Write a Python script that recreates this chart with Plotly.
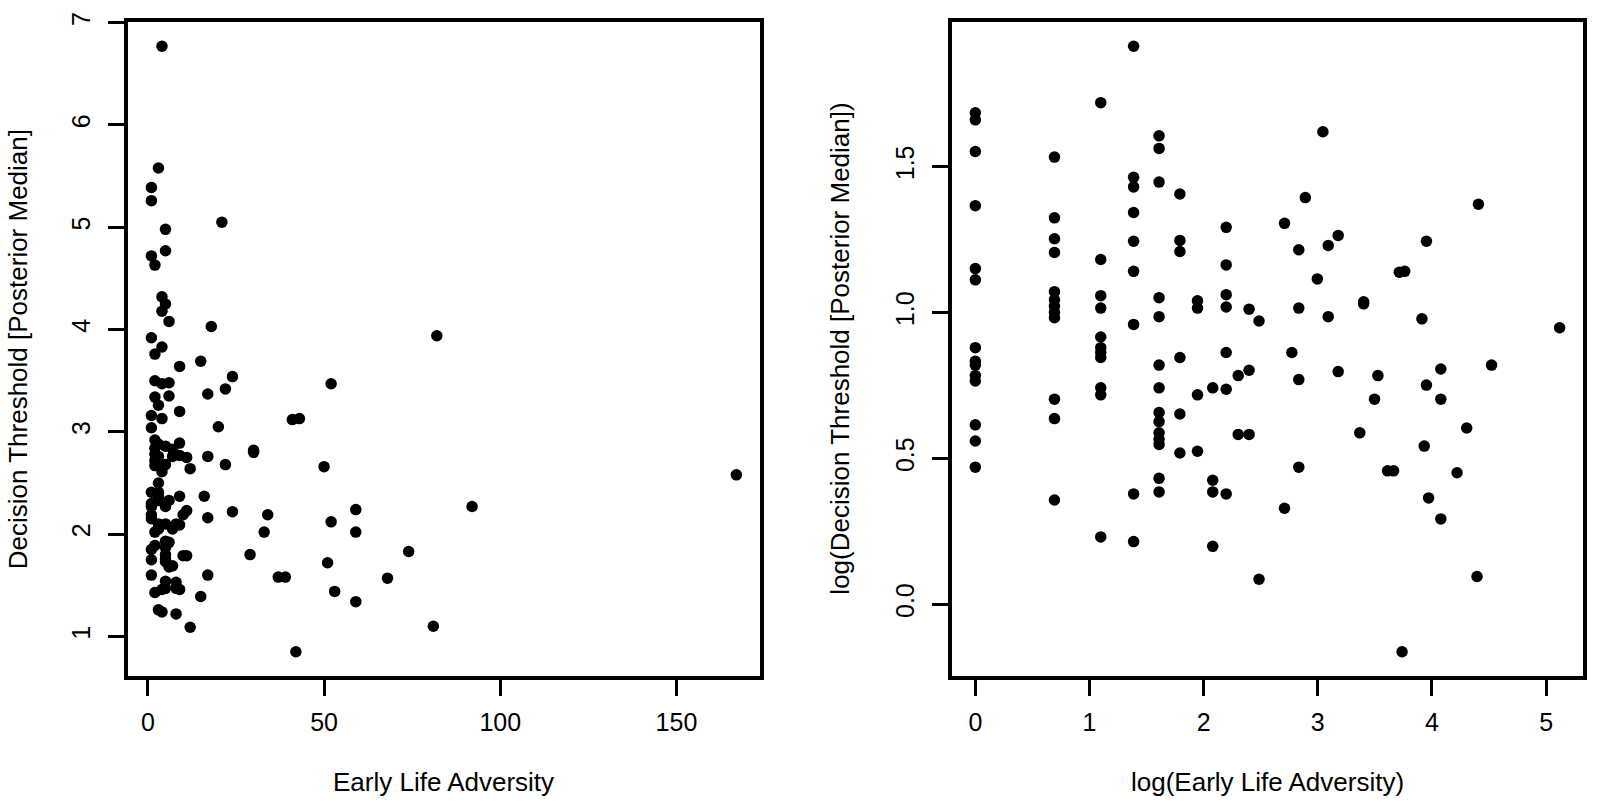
import numpy as np
import plotly.graph_objects as go
from plotly.subplots import make_subplots

# Early life adversity score and decision threshold (posterior median), one entry per participant
adversity = [
    1, 1, 1, 1, 1, 1, 1, 1, 1, 1, 1, 1, 1, 1,
    2, 2, 2, 2, 2, 2, 2, 2, 2, 2, 2, 2,
    3, 3, 3, 3, 3, 3, 3, 3, 3, 3, 3,
    4, 4, 4, 4, 4, 4, 4, 4, 4,
    5, 5, 5, 5, 5, 5, 5, 5, 5, 5, 5, 5, 5, 5,
    6, 6, 6, 6, 6, 6,
    7, 7, 7, 7,
    8, 8, 8, 8,
    9, 9, 9, 9, 9, 9, 9,
    10, 10, 11, 11, 11, 12, 12,
    15, 15, 16, 17, 17, 17, 17, 18, 20, 21, 22, 22, 24, 24,
    29, 30, 30, 33, 34, 37, 39, 41, 42, 43,
    50, 51, 52, 52, 53, 59, 59, 59, 68, 74, 81, 82, 92, 167,
]

threshold = [
    5.39, 5.26, 4.72, 3.92, 3.16, 3.04, 2.41, 2.30, 2.27, 2.19, 2.15, 1.85, 1.75, 1.60,
    4.63, 3.76, 3.50, 3.34, 2.92, 2.84, 2.78, 2.72, 2.67, 2.02, 1.89, 1.43,
    5.58, 3.26, 2.88, 2.76, 2.50, 2.41, 2.37, 2.33, 2.10, 2.05, 1.26,
    6.77, 4.32, 4.18, 3.83, 3.47, 3.13, 2.61, 1.46, 1.24,
    4.98, 4.77, 4.25, 2.86, 2.68, 2.27, 2.10, 1.93, 1.87, 1.80, 1.76, 1.73, 1.54, 1.47,
    4.08, 3.48, 3.35, 2.33, 1.92, 1.68,
    2.83, 2.76, 2.05, 1.69,
    2.10, 1.53, 1.47, 1.22,
    3.64, 3.20, 2.89, 2.77, 2.37, 2.09, 1.46,
    2.19, 1.79, 2.75, 2.23, 1.79, 2.64, 1.09,
    3.69, 1.39, 2.37, 3.37, 2.76, 2.16, 1.60, 4.03, 3.05, 5.05, 3.42, 2.68, 3.54, 2.22,
    1.80, 2.82, 2.80, 2.02, 2.19, 1.58, 1.58, 3.12, 0.85, 3.13,
    2.66, 1.72, 3.47, 2.12, 1.44, 2.24, 2.02, 1.34, 1.57, 1.83, 1.10, 3.94, 2.27, 2.58,
]

assert len(adversity) == len(threshold)

# tick positions / labels
left_xticks = [0, 50, 100, 150]
left_yticks = [1, 2, 3, 4, 5, 6, 7]
right_xticks = [0, 1, 2, 3, 4, 5]
right_yticks = [0.0, 0.5, 1.0, 1.5]

log_adv = np.log(adversity)
log_thr = np.log(threshold)


def r_range(v):
    # base R style axis range: data range padded 4% each side
    lo, hi = float(np.min(v)), float(np.max(v))
    pad = 0.04 * (hi - lo)
    return [lo - pad, hi + pad]


FONT = "Liberation Sans, Arial, Helvetica, sans-serif"

fig = make_subplots(rows=1, cols=2)

fig.add_trace(go.Scatter(
    x=adversity, y=threshold, mode="markers",
    marker=dict(color="black", size=11.5),
    hoverinfo="x+y",
), row=1, col=1)

fig.add_trace(go.Scatter(
    x=log_adv, y=log_thr, mode="markers",
    marker=dict(color="black", size=11.5),
    hoverinfo="x+y",
), row=1, col=2)

axis_style = dict(
    showline=True, mirror=True, linecolor="black", linewidth=3.5,
    ticks="outside", ticklen=16, tickwidth=3, tickcolor="black",
    showgrid=False, zeroline=False,
    tickfont=dict(family=FONT, size=25, color="black"),
)

fig.update_xaxes(axis_style, ticklabelstandoff=5)
fig.update_yaxes(axis_style, tickangle=-90, ticklabelstandoff=8)

fig.update_xaxes(domain=[0, 0.4342], range=r_range(adversity), tickvals=left_xticks, row=1, col=1)
fig.update_yaxes(range=r_range(threshold), tickvals=left_yticks, row=1, col=1)
fig.update_xaxes(domain=[0.5663, 1], range=r_range(log_adv), tickvals=right_xticks, row=1, col=2)
fig.update_yaxes(range=r_range(log_thr), tickvals=right_yticks, tickformat=".1f", row=1, col=2)

# axis titles, placed like R's mtext lines
titles = [
    dict(text="Early Life Adversity", xref="x domain", yref="paper", x=0.5, y=-0.162, textangle=0),
    dict(text="log(Early Life Adversity)", xref="x2 domain", yref="paper", x=0.5, y=-0.162, textangle=0),
    dict(text="Decision Threshold [Posterior Median]", xref="paper", yref="y domain", x=-0.0754, y=0.5, textangle=-90),
    dict(text="log(Decision Threshold [Posterior Median])", xref="paper", yref="y2 domain", x=0.4891, y=0.5, textangle=-90),
]
for t in titles:
    fig.add_annotation(
        showarrow=False, xanchor="center", yanchor="middle",
        font=dict(family=FONT, size=26, color="black"), **t
    )

fig.update_layout(
    width=1599, height=811,
    margin=dict(l=128, r=13, t=18, b=135),
    plot_bgcolor="white", paper_bgcolor="white",
    showlegend=False,
    font=dict(family=FONT, color="black"),
)

fig.write_html("out.html", config={"displayModeBar": False},
               post_script="document.body.style.margin='0';document.body.style.overflow='hidden';")
